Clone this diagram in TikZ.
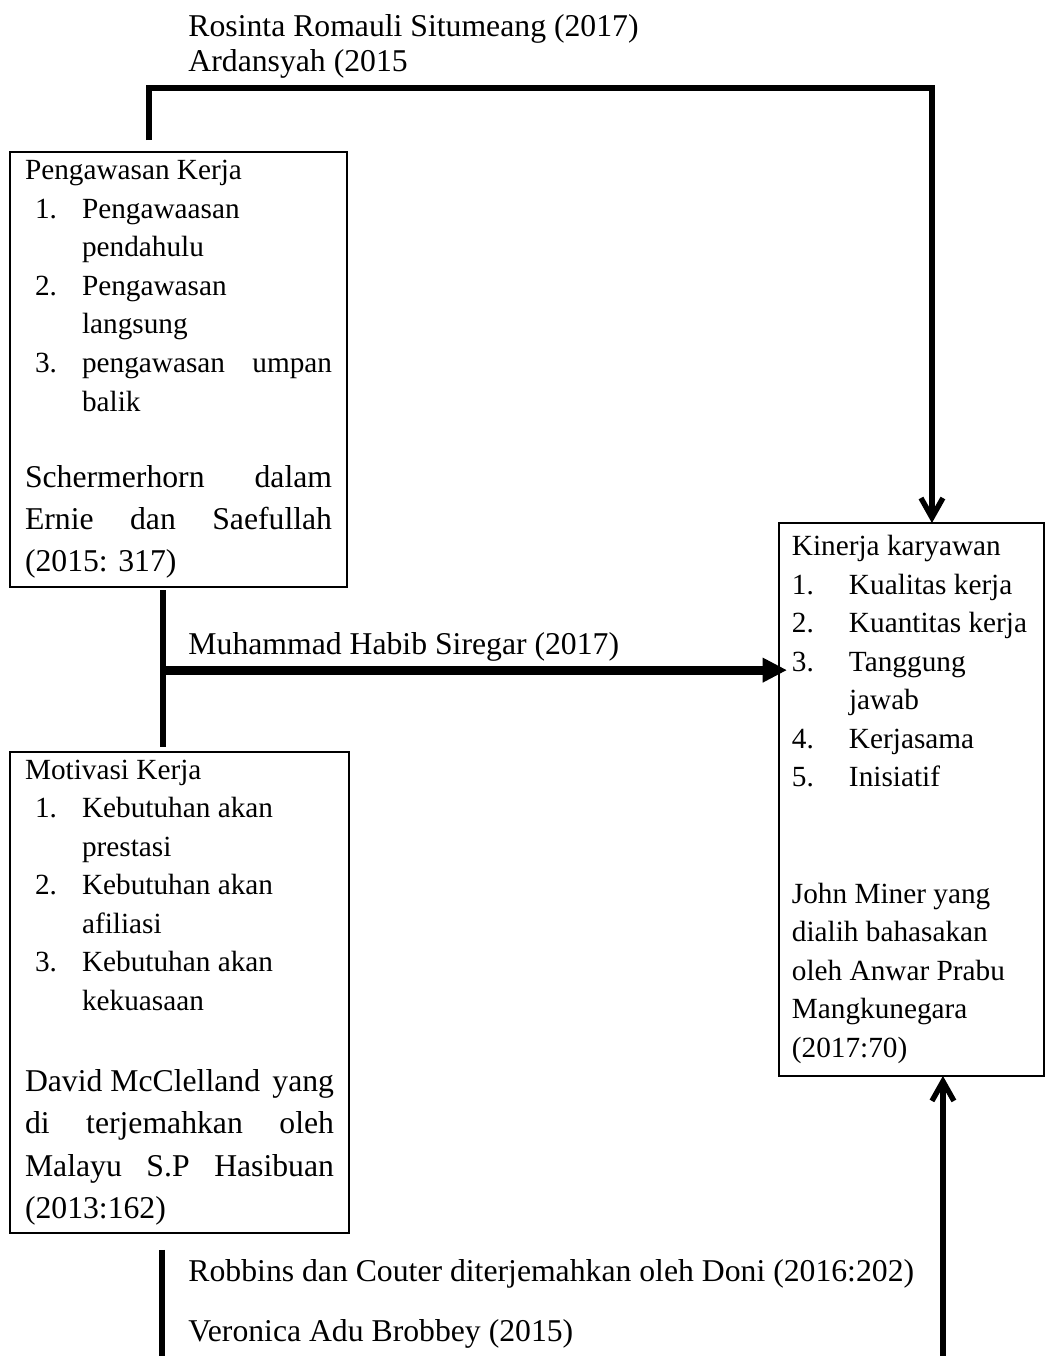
\documentclass[tikz,border=0pt]{standalone}
\usepackage{fontspec}
\setmainfont{Liberation Serif}
\usetikzlibrary{positioning,arrows.meta}
\setlength{\parindent}{0pt}

\newcommand\itemno[1]{\hspace*{4.1pt}\makebox[19.3pt][l]{#1}}
\newcommand\itemin{\hspace*{23.4pt}}
\newcommand\kno[1]{\makebox[23.4pt][l]{#1}}

\begin{document}
\begin{tikzpicture}[x=0.41pt, y=-0.41pt,
  box/.style={draw, line width=0.8pt, anchor=north west, outer sep=0pt,
    inner xsep=6.15pt, inner ysep=0pt, align=flush left,
    font=\fontsize{12}{15.8}\selectfont},
  lbl/.style={anchor=base west, inner sep=0pt, font=\fontsize{13}{16}\selectfont},
  link/.style={line width=2.2pt}]
  \useasboundingbox (0,0) rectangle (1046,1356);

  % variabel
  \node[box, minimum width=138.2pt, minimum height=178.4pt, text width=125.9pt] (pk) at (10,152) {%
    Pengawasan Kerja\\
    \itemno{1.}Pengawaasan\\
    \itemin pendahulu\\
    \itemno{2.}Pengawasan\\
    \itemin langsung\\
    \itemno{3.}pengawasan\hfill umpan\\
    \itemin balik\par
    \vspace{13.8pt}
    {\fontsize{13}{17.4}\selectfont Schermerhorn\hfill dalam\\
    Ernie\hfill dan\hfill Saefullah\\
    (2015: 317)\par}};
  \node[box, minimum width=139pt, minimum height=197.2pt, text width=126.7pt] (mk) at (10,752) {%
    Motivasi Kerja\\
    \itemno{1.}Kebutuhan akan\\
    \itemin prestasi\\
    \itemno{2.}Kebutuhan akan\\
    \itemin afiliasi\\
    \itemno{3.}Kebutuhan akan\\
    \itemin kekuasaan\par
    \vspace{15.8pt}
    {\fontsize{13}{17.4}\selectfont David McClelland\hfill yang\\
    di\hfill terjemahkan\hfill oleh\\
    Malayu\hfill S.P\hfill Hasibuan\\
    (2013:162)\par}};
  \node[box, inner xsep=5.3pt, minimum width=108.6pt, minimum height=226.7pt, text width=98pt] (kk) at (779,523) {%
    Kinerja karyawan\\
    \kno{1.}Kualitas kerja\\
    \kno{2.}Kuantitas kerja\\
    \kno{3.}Tanggung\\
    \hspace*{23.4pt}jawab\\
    \kno{4.}Kerjasama\\
    \kno{5.}Inisiatif\par
    \vspace{32pt}
    John Miner yang\\
    dialih bahasakan\\
    oleh Anwar Prabu\\
    Mangkunegara\\
    (2017:70)\par
    \vspace{6.5pt}};

  % sumber
  \node[lbl] (r1) at (188,36) {Rosinta Romauli Situmeang (2017)};
  \node[lbl] (r2) at (188,71) {Ardansyah (2015};
  \node[lbl] (mh) at (188,654) {Muhammad Habib Siregar (2017)};
  \node[lbl] (rb) at (188,1281) {Robbins dan Couter diterjemahkan oleh Doni (2016:202)};
  \node[lbl] (vb) at (188,1341) {Veronica Adu Brobbey (2015)};

  % garis
  \coordinate (topy) at (0,88);
  \coordinate (bot) at (0,1356);
  \coordinate (kin) at ([shift={(20.5,0)}]kk.north);
  \coordinate (kout) at ([shift={(31.5,0)}]kk.south);
  \coordinate (j) at ([shift={(153,83)}]pk.south west);
  \coordinate (lb) at ([shift={(152,17)}]mk.south west);

  \draw[link, -{Straight Barb[length=8pt,width=9pt]}]
    ([shift={(139,-12)}]pk.north west) |- (kin |- topy) -- (kin);
  \draw[link] ([shift={(153,3)}]pk.south west) -- ([shift={(153,-5)}]mk.north west);
  \draw[line width=3.6pt, -{Triangle[length=10pt,width=9.5pt]}, shorten >=-3.3pt]
    (j) -- (j -| kk.west);
  \draw[link] (lb) -- (lb |- bot);
  \draw[link, -{Straight Barb[length=8pt,width=9pt]}] (kout |- bot) -- (kout);
\end{tikzpicture}
\end{document}
